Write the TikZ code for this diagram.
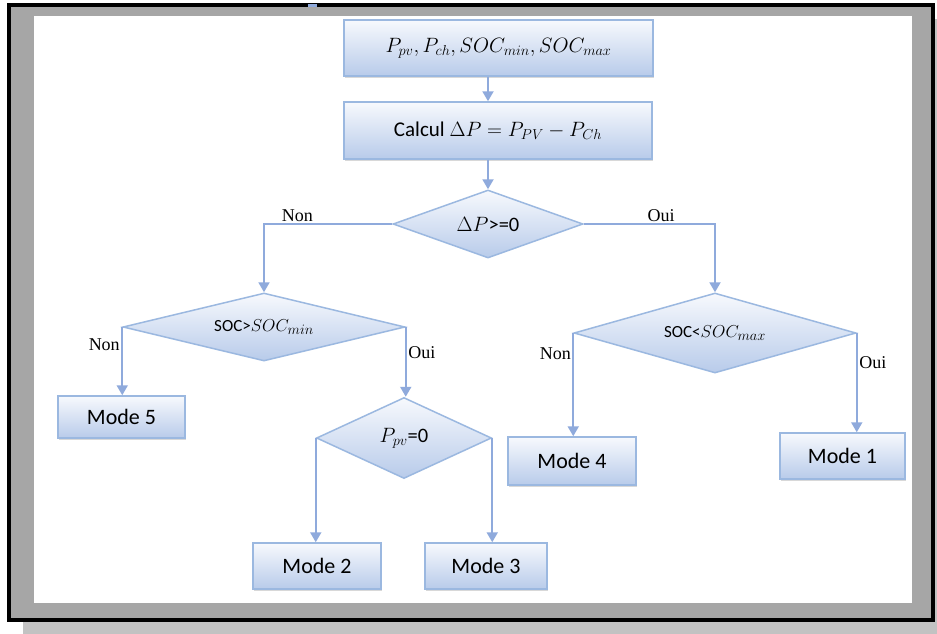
\documentclass[tikz,border=0pt]{standalone}
\usepackage{fontspec}
\setmainfont{Liberation Serif}
\newfontfamily\carl{Carlito}
\usetikzlibrary{shapes.geometric,arrows.meta,shadows}

\definecolor{flowline}{RGB}{143,170,220}
\definecolor{boxedge}{RGB}{155,184,224}
\definecolor{boxlow}{RGB}{184,203,234}
\definecolor{boxhigh}{RGB}{247,249,253}
\definecolor{panelgray}{RGB}{166,166,166}
\definecolor{shadegray}{RGB}{194,194,194}

\tikzset{
  procbox/.style={rectangle, draw=boxedge, line width=1.5pt,
    top color=boxhigh, bottom color=boxlow, inner sep=0pt,
    font=\carl\fontsize{22}{26}\selectfont,
    drop shadow={shadow xshift=1pt, shadow yshift=-2pt, opacity=0.3}},
  decision/.style={diamond, draw=boxedge, line width=1.5pt,
    top color=boxhigh, bottom color=boxlow, inner sep=0pt},
  flow/.style={draw=flowline, line width=2pt,
    -{Triangle[width=11pt,length=10pt]}},
  tag/.style={font=\fontsize{18}{21}\selectfont, inner sep=1.5pt}
}

\begin{document}
\begin{tikzpicture}[x=1pt,y=-1pt]
  \useasboundingbox (0,0) rectangle (937,634);
  \fill[white] (0,0) rectangle (937,634);

  % outer frame with its shadow
  \fill[shadegray] (23,622) rectangle (937,634);
  \fill[shadegray] (935,19) rectangle (937,634);
  \draw[line width=4pt, fill=panelgray] (9,5) rectangle (933,620);
  \fill[flowline] (308,4.5) rectangle (317,7.5);
  \fill[white] (34,16) rectangle (912,603);

  % process boxes
  \node[procbox, minimum width=309pt, minimum height=56pt] (inputs) at (498.5,48)
    {\fontsize{20.5}{24}\selectfont $P_{pv},P_{ch},SOC_{min},SOC_{max}$};
  \node[procbox, minimum width=308pt, minimum height=57pt] (calc) at (498,130.5)
    {\fontsize{21}{24}\selectfont Calcul $\Delta P = P_{PV} - P_{Ch}$};

  % decisions
  \node[decision, minimum width=190pt, minimum height=68pt, aspect=2.8] (dp) at (488,224)
    {\carl\fontsize{20.5}{24}\selectfont $\Delta P$>=0};
  \node[decision, minimum width=282pt, minimum height=68pt, aspect=4.15] (socmin) at (264,327)
    {\carl\fontsize{17}{20}\selectfont SOC>\fontsize{19}{22}\selectfont$SOC_{min}$};
  \node[decision, minimum width=282pt, minimum height=80pt, aspect=3.5] (socmax) at (715,333)
    {\carl\fontsize{17}{20}\selectfont SOC<\fontsize{19}{22}\selectfont$SOC_{max}$};
  \node[decision, minimum width=175pt, minimum height=81pt, aspect=2.16] (ppv) at (404,438)
    {\carl\fontsize{20.5}{24}\selectfont $P_{pv}$=0};

  % operating modes
  \node[procbox, minimum width=127pt, minimum height=42pt] (mode5) at (121.5,417) {Mode 5};
  \node[procbox, minimum width=128pt, minimum height=46pt] (mode2) at (317,566) {Mode 2};
  \node[procbox, minimum width=122pt, minimum height=46pt] (mode3) at (486,566) {Mode 3};
  \node[procbox, minimum width=128pt, minimum height=48pt] (mode4) at (572,461) {Mode 4};
  \node[procbox, minimum width=125pt, minimum height=46pt] (mode1) at (842.5,456) {Mode 1};

  % connectors
  \draw[flow] (inputs.south -| dp.north) -- (calc.north -| dp.north);
  \draw[flow] (calc.south -| dp.north) -- (dp.north);
  \draw[flow] (dp.west) -| node[tag, pos=0.37, anchor=south] (nonA) {Non} (socmin.north);
  \draw[flow] (dp.east) -| node[tag, pos=0.295, anchor=south] (ouiA) {Oui} (socmax.north);
  \draw[flow] (socmin.west) -- node[tag, pos=0.26, left] (nonB) {Non} (socmin.west |- mode5.north);
  \draw[flow] (socmin.east) -- node[tag, pos=0.37, right] (ouiB) {Oui} (socmin.east |- ppv.north);
  \draw[flow] (socmax.west) -- node[tag, pos=0.2, left] (nonC) {Non} (socmax.west |- mode4.north);
  \draw[flow] (socmax.east) -- node[tag, pos=0.3, right] (ouiC) {Oui} (socmax.east |- mode1.north);
  \draw[flow] (ppv.west) -- (ppv.west |- mode2.north);
  \draw[flow] (ppv.east) -- (ppv.east |- mode3.north);
\end{tikzpicture}
\end{document}
